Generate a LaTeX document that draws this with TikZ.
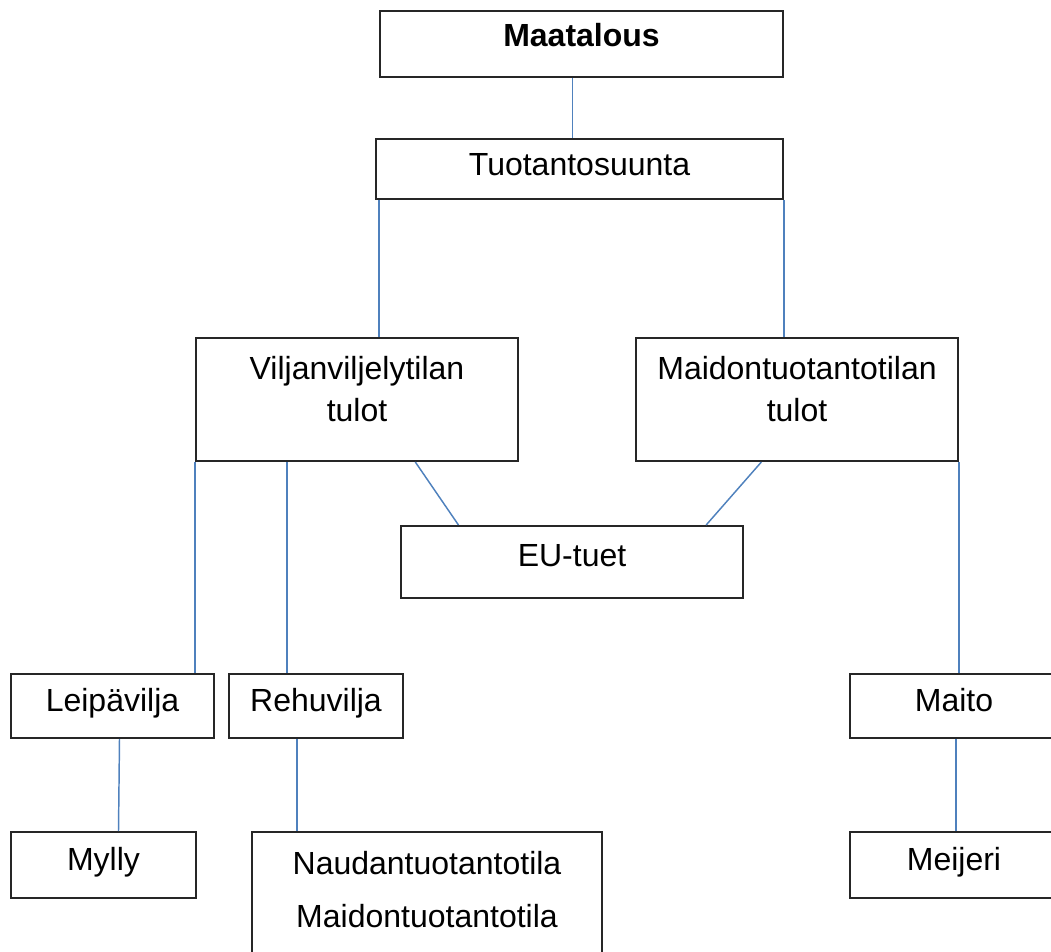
\documentclass[tikz,border=0pt]{standalone}
\usepackage{fontspec}
\setmainfont{Liberation Sans}
\usetikzlibrary{calc,positioning}
\definecolor{linkblue}{HTML}{4F81BD}

% text of a box, lifted a little towards its top
\newcommand{\lifted}[2]{\raisebox{#1}[0pt][0pt]{\begin{tabular}{@{}c@{}}#2\end{tabular}}}

\tikzset{
  box/.style 2 args={draw=black!85, line width=1.5pt, anchor=north west, inner sep=0pt,
    minimum width=#1*0.75pt, minimum height=#2*0.75pt,
    font=\fontsize{24}{32}\selectfont},
  link/.style={draw=linkblue, line width=1.1pt}
}

\begin{document}
\begin{tikzpicture}[x=0.75pt, y=-0.75pt]
\clip (0,0) rectangle (1051,951);

% Draw the boxes
\node[box={403}{66}] (maatalous) at (379,10) {\lifted{-2pt}{\textbf{Maatalous}}};
\node[box={407}{60}] (suunta) at (375,138) {\lifted{-5pt}{Tuotantosuunta}};
\node[box={322}{123}] (vilja) at (195,337) {\lifted{-0.6pt}{Viljanviljelytilan\\tulot}};
\node[box={322}{123}] (maitotila) at (635,337) {\lifted{-0.6pt}{Maidontuotantotilan\\tulot}};
\node[box={342}{72}] (eu) at (400,525) {\lifted{-3.5pt}{EU-tuet}};
\node[box={203}{64}] (leipa) at (10,673) {\lifted{-4pt}{Leipävilja}};
\node[box={174}{64}] (rehu) at (228,673) {\lifted{-4pt}{Rehuvilja}};
\node[box={208}{64}] (maito) at (849,673) {\lifted{-4pt}{Maito}};
\node[box={185}{66}] (mylly) at (10,831) {\lifted{-4pt}{Mylly}};
\node[box={350}{125}] (nauta) at (251,831) {\lifted{-4.6pt}{Naudantuotantotila\\[8pt]Maidontuotantotila}};
\node[box={208}{66}] (meijeri) at (849,831) {\lifted{-4pt}{Meijeri}};

% Points where the links leave the boxes
\coordinate (m1) at ($(maatalous.south)+(-9,0)$);
\coordinate (s1) at ($(suunta.south west)+(4,0)$);
\coordinate (v1) at ($(vilja.south west)+(92,0)$);
\coordinate (r1) at ($(rehu.south west)+(69,0)$);
\coordinate (k1) at ($(maito.south west)+(107,0)$);

% Draw the links between them
\draw[link] (m1) -- (m1 |- suunta.north);
\draw[link] (s1) -- (s1 |- vilja.north);
\draw[link] (suunta.south east) -- (suunta.south east |- maitotila.north);
\draw[link] (vilja.south west) -- (vilja.south west |- leipa.north);
\draw[link] (v1) -- (v1 |- rehu.north);
\draw[link] ($(vilja.south west)!0.68!(vilja.south east)$) -- ($(eu.north west)!0.17!(eu.north east)$);
\draw[link] ($(maitotila.south west)!0.39!(maitotila.south east)$) -- ($(eu.north west)!0.89!(eu.north east)$);
\draw[link] (maitotila.south east) -- (maitotila.south east |- maito.north);
\draw[link] ($(leipa.south)+(7,0)$) -- ($(mylly.north)+(15,0)$);
\draw[link] (r1) -- (r1 |- nauta.north);
\draw[link] (k1) -- (k1 |- meijeri.north);
\end{tikzpicture}
\end{document}
